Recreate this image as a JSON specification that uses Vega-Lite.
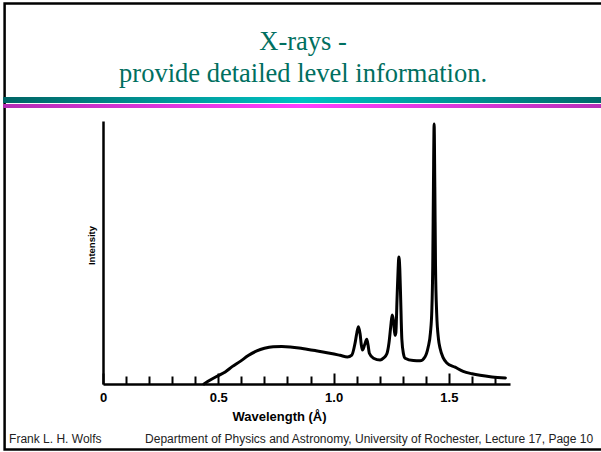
{
  "$schema": "https://vega.github.io/schema/vega-lite/v6.json",
  "width": 407,
  "height": 263,
  "autosize": {"type": "none"},
  "padding": {"left": 103, "top": 121, "right": 91, "bottom": 68},
  "background": "white",
  "config": {"view": {"stroke": null}},
  "datasets": {
    "spectrum": [
      {"wavelength": 0.438, "intensity": 0},
      {"wavelength": 0.465, "intensity": 1.5},
      {"wavelength": 0.5, "intensity": 3.2},
      {"wavelength": 0.53, "intensity": 4.6},
      {"wavelength": 0.56, "intensity": 6.6},
      {"wavelength": 0.595, "intensity": 8.6},
      {"wavelength": 0.63, "intensity": 10.8},
      {"wavelength": 0.667, "intensity": 12.6},
      {"wavelength": 0.7, "intensity": 13.6},
      {"wavelength": 0.738, "intensity": 14.2},
      {"wavelength": 0.775, "intensity": 14.3},
      {"wavelength": 0.812, "intensity": 14.1},
      {"wavelength": 0.85, "intensity": 13.7},
      {"wavelength": 0.884, "intensity": 13.2},
      {"wavelength": 0.92, "intensity": 12.7},
      {"wavelength": 0.954, "intensity": 12.2},
      {"wavelength": 0.99, "intensity": 11.6},
      {"wavelength": 1.028, "intensity": 10.9},
      {"wavelength": 1.06, "intensity": 10.3},
      {"wavelength": 1.079, "intensity": 11.0},
      {"wavelength": 1.093, "intensity": 15.5},
      {"wavelength": 1.101, "intensity": 19.5},
      {"wavelength": 1.108, "intensity": 21.8},
      {"wavelength": 1.115, "intensity": 19.0},
      {"wavelength": 1.12, "intensity": 15.0},
      {"wavelength": 1.125, "intensity": 12.9},
      {"wavelength": 1.135, "intensity": 15.0},
      {"wavelength": 1.144, "intensity": 17.0},
      {"wavelength": 1.15, "intensity": 14.5},
      {"wavelength": 1.155, "intensity": 11.7},
      {"wavelength": 1.173, "intensity": 9.8},
      {"wavelength": 1.202, "intensity": 9.1},
      {"wavelength": 1.216, "intensity": 9.8},
      {"wavelength": 1.231, "intensity": 11.5},
      {"wavelength": 1.24, "intensity": 15.5},
      {"wavelength": 1.248, "intensity": 22.0},
      {"wavelength": 1.254, "intensity": 26.2},
      {"wavelength": 1.26, "intensity": 24.0},
      {"wavelength": 1.266, "intensity": 18.5},
      {"wavelength": 1.27, "intensity": 19.5},
      {"wavelength": 1.275, "intensity": 32.0},
      {"wavelength": 1.28, "intensity": 44.0},
      {"wavelength": 1.283, "intensity": 48.3},
      {"wavelength": 1.287, "intensity": 44.0},
      {"wavelength": 1.291, "intensity": 32.0},
      {"wavelength": 1.296, "intensity": 17.0},
      {"wavelength": 1.303, "intensity": 11.5},
      {"wavelength": 1.31, "intensity": 9.8},
      {"wavelength": 1.346, "intensity": 8.9},
      {"wavelength": 1.375, "intensity": 8.8},
      {"wavelength": 1.396, "intensity": 10.3},
      {"wavelength": 1.41, "intensity": 14.0},
      {"wavelength": 1.42, "intensity": 19.5},
      {"wavelength": 1.426, "intensity": 28.0},
      {"wavelength": 1.43, "intensity": 45.0},
      {"wavelength": 1.433, "intensity": 75.0},
      {"wavelength": 1.436, "intensity": 98.9},
      {"wavelength": 1.439, "intensity": 75.0},
      {"wavelength": 1.442, "intensity": 45.0},
      {"wavelength": 1.447, "intensity": 27.0},
      {"wavelength": 1.455, "intensity": 17.0},
      {"wavelength": 1.462, "intensity": 13.5},
      {"wavelength": 1.475, "intensity": 10.0},
      {"wavelength": 1.491, "intensity": 8.0},
      {"wavelength": 1.527, "intensity": 6.4},
      {"wavelength": 1.562, "intensity": 4.8},
      {"wavelength": 1.6, "intensity": 3.9},
      {"wavelength": 1.635, "intensity": 3.3},
      {"wavelength": 1.687, "intensity": 2.7},
      {"wavelength": 1.745, "intensity": 2.3}
    ],
    "deco": [{"item": "decoration"}],
    "header": [{"text": "X-rays -\nprovide detailed level information."}],
    "author": [{"text": "Frank L. H. Wolfs"}],
    "dept": [{"text": "Department of Physics and Astronomy, University of Rochester, Lecture 17, Page 10"}]
  },
  "layer": [
    {
      "data": {"name": "deco"},
      "mark": {"type": "rect", "fillOpacity": 0, "stroke": "black", "strokeWidth": 2.5},
      "encoding": {
        "x": {"datum": -0.4267, "type": "quantitative", "scale": {"domain": [0, 1.765], "nice": false, "zero": false}},
        "x2": {"datum": 2.2},
        "y": {"datum": 144.7, "type": "quantitative", "scale": {"domain": [0, 100], "nice": false, "zero": false}},
        "y2": {"datum": -24.9}
      }
    },
    {
      "data": {"name": "deco"},
      "mark": {"type": "rect", "color": {"gradient": "linear", "x1": 0, "x2": 1, "y1": 0, "y2": 0, "stops": [{"offset": 0, "color": "#006464"}, {"offset": 0.5, "color": "#00c2c2"}, {"offset": 1, "color": "#006a6a"}]}},
      "encoding": {
        "x": {"datum": -0.4332, "type": "quantitative", "scale": {"domain": [0, 1.765], "nice": false, "zero": false}},
        "x2": {"datum": 2.16},
        "y": {"datum": 109.1, "type": "quantitative", "scale": {"domain": [0, 100], "nice": false, "zero": false}},
        "y2": {"datum": 106.8}
      }
    },
    {
      "data": {"name": "deco"},
      "mark": {"type": "rect", "color": {"gradient": "linear", "x1": 0, "x2": 1, "y1": 0, "y2": 0, "stops": [{"offset": 0, "color": "#b42cb4"}, {"offset": 0.5, "color": "#ff40ff"}, {"offset": 1, "color": "#b830b8"}]}},
      "encoding": {
        "x": {"datum": -0.4332, "type": "quantitative", "scale": {"domain": [0, 1.765], "nice": false, "zero": false}},
        "x2": {"datum": 2.16},
        "y": {"datum": 106.5, "type": "quantitative", "scale": {"domain": [0, 100], "nice": false, "zero": false}},
        "y2": {"datum": 104.9}
      }
    },
    {
      "data": {"name": "header"},
      "mark": {"type": "text", "font": "Liberation Serif", "fontSize": 26.5, "color": "#006f60", "align": "center", "baseline": "alphabetic", "lineBreak": "\n", "lineHeight": 32},
      "encoding": {
        "x": {"datum": 0.8677, "type": "quantitative", "scale": {"domain": [0, 1.765], "nice": false, "zero": false}},
        "y": {"datum": 127.0, "type": "quantitative", "scale": {"domain": [0, 100], "nice": false, "zero": false}},
        "text": {"field": "text"}
      }
    },
    {
      "data": {"name": "author"},
      "mark": {"type": "text", "font": "Liberation Sans", "fontSize": 12, "color": "#222222", "align": "left", "baseline": "alphabetic"},
      "encoding": {
        "x": {"datum": -0.4072, "type": "quantitative", "scale": {"domain": [0, 1.765], "nice": false, "zero": false}},
        "y": {"datum": -22.43, "type": "quantitative", "scale": {"domain": [0, 100], "nice": false, "zero": false}},
        "text": {"field": "text"}
      }
    },
    {
      "data": {"name": "dept"},
      "mark": {"type": "text", "font": "Liberation Sans", "fontSize": 12, "color": "#222222", "align": "left", "baseline": "alphabetic"},
      "encoding": {
        "x": {"datum": 0.1826, "type": "quantitative", "scale": {"domain": [0, 1.765], "nice": false, "zero": false}},
        "y": {"datum": -22.43, "type": "quantitative", "scale": {"domain": [0, 100], "nice": false, "zero": false}},
        "text": {"field": "text"}
      }
    },
    {
      "data": {"name": "spectrum"},
      "mark": {"type": "line", "color": "black", "strokeWidth": 3, "interpolate": "monotone", "strokeJoin": "round", "strokeCap": "round"},
      "encoding": {
        "x": {
          "field": "wavelength",
          "type": "quantitative",
          "scale": {"domain": [0, 1.765], "nice": false, "zero": false},
          "axis": {
            "values": [0, 0.1, 0.2, 0.3, 0.4, 0.5, 0.6, 0.7, 0.8, 0.9, 1.0, 1.1, 1.2, 1.3, 1.4, 1.5, 1.6, 1.7],
            "tickCount": 40,
            "domainColor": "black",
            "domainWidth": 2.5,
            "tickColor": "black",
            "tickWidth": 2,
            "tickSize": {"condition": {"test": "abs(datum.value*2 - round(datum.value*2)) < 0.001", "value": -11}, "value": -8},
            "labelExpr": "datum.value == 0 ? '0' : (abs(datum.value*2 - round(datum.value*2)) < 0.001 ? format(datum.value, '.1f') : '')",
            "labelFont": "Liberation Sans",
            "labelFontWeight": "bold",
            "labelFontSize": 13,
            "labelColor": "black",
            "labelPadding": 18,
            "labelFlush": false,
            "labelOverlap": false,
            "grid": false,
            "title": "Wavelength (Å)",
            "titleFont": "Liberation Sans",
            "titleFontWeight": "bold",
            "titleFontSize": 13,
            "titleColor": "black",
            "titleX": 176,
            "titleY": 36,
            "titleBaseline": "alphabetic",
            "titleAlign": "center"
          }
        },
        "y": {
          "field": "intensity",
          "type": "quantitative",
          "scale": {"domain": [0, 100], "nice": false, "zero": false},
          "axis": {
            "domainColor": "black",
            "domainWidth": 2.5,
            "ticks": false,
            "labels": false,
            "grid": false,
            "title": "Intensity",
            "titleFont": "Liberation Sans",
            "titleFontWeight": "bold",
            "titleFontSize": 9.5,
            "titleColor": "black",
            "titleX": -12,
            "titleY": 124,
            "titleAngle": 270,
            "titleBaseline": "middle",
            "titleAlign": "center"
          }
        }
      }
    }
  ]
}
